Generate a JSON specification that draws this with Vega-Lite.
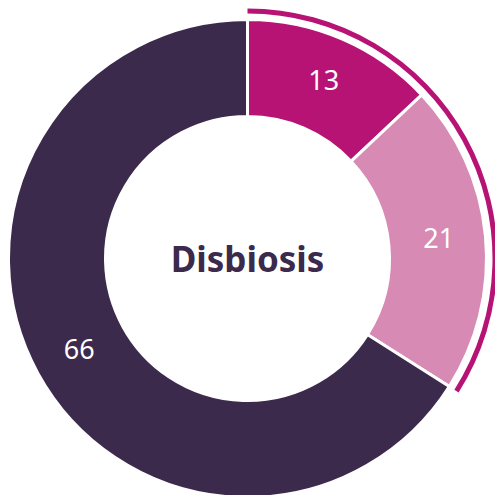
{
  "$schema": "https://vega.github.io/schema/vega-lite/v6.json",
  "width": 495,
  "height": 495,
  "autosize": "none",
  "padding": 0,
  "background": "white",
  "view": {"stroke": null},
  "layer": [
    {
      "data": {"values": [
        {"cat": "A", "value": 13, "idx": 1},
        {"cat": "B", "value": 21, "idx": 2},
        {"cat": "C", "value": 66, "idx": 3}
      ]},
      "mark": {"type": "arc", "radius": 239, "radius2": 142, "stroke": "white", "strokeWidth": 3, "yOffset": 11},
      "encoding": {
        "theta": {"field": "value", "type": "quantitative", "stack": true},
        "order": {"field": "idx", "type": "quantitative"},
        "color": {"field": "cat", "type": "nominal", "scale": {"domain": ["A", "B", "C"], "range": ["#B71375", "#D68AB4", "#3C2A4D"]}, "legend": null}
      }
    },
    {
      "data": {"values": [
        {"part": "on", "share": 34, "idx": 1},
        {"part": "off", "share": 66, "idx": 2}
      ]},
      "mark": {"type": "arc", "radius": 250, "radius2": 245, "yOffset": 11},
      "encoding": {
        "theta": {"field": "share", "type": "quantitative", "stack": true},
        "order": {"field": "idx", "type": "quantitative"},
        "fill": {"field": "part", "type": "nominal", "scale": {"domain": ["on", "off"], "range": ["#B71375", "transparent"]}, "legend": null}
      }
    },
    {
      "data": {"values": [
        {"cat": "A", "value": 13, "idx": 1},
        {"cat": "B", "value": 21, "idx": 2},
        {"cat": "C", "value": 66, "idx": 3}
      ]},
      "mark": {"type": "text", "radius": 192, "yOffset": 11, "fill": "white", "fontSize": 27, "font": "Noto Sans", "align": "center", "baseline": "middle"},
      "encoding": {
        "theta": {"field": "value", "type": "quantitative", "stack": true},
        "order": {"field": "idx", "type": "quantitative"},
        "text": {"field": "value", "type": "quantitative"}
      }
    },
    {
      "data": {"values": [{"label": "Disbiosis"}]},
      "mark": {"type": "text", "yOffset": 13, "fill": "#3C2A4D", "fontSize": 35, "fontWeight": "bold", "font": "Noto Sans", "align": "center", "baseline": "middle"},
      "encoding": {
        "text": {"field": "label", "type": "nominal"}
      }
    }
  ]
}
